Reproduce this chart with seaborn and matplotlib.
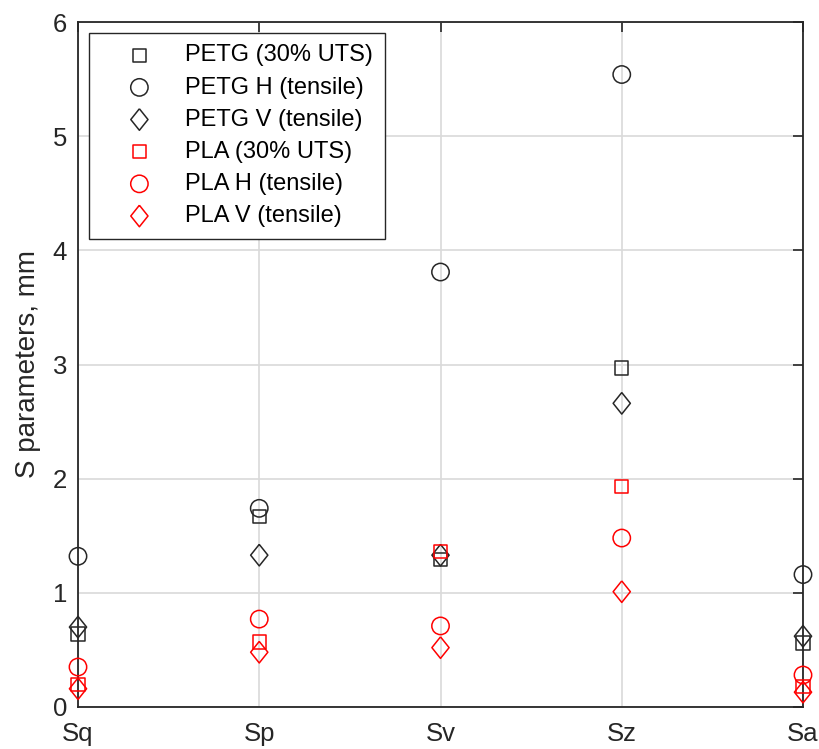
import numpy as np
import pandas as pd
import matplotlib
matplotlib.use("Agg")
import matplotlib.pyplot as plt
import seaborn as sns

# surface roughness parameters
params = ["Sq", "Sp", "Sv", "Sz", "Sa"]
petg_uts = [0.64, 1.67, 1.29, 2.97, 0.56]
petg_h = [1.32, 1.74, 3.81, 5.54, 1.16]
petg_v = [0.70, 1.33, 1.33, 2.66, 0.62]
pla_uts = [0.20, 0.57, 1.36, 1.93, 0.18]
pla_h = [0.35, 0.77, 0.71, 1.48, 0.28]
pla_v = [0.16, 0.48, 0.52, 1.01, 0.13]

series_names = ["PETG (30% UTS)", "PETG H (tensile)", "PETG V (tensile)",
                "PLA (30% UTS)", "PLA H (tensile)", "PLA V (tensile)"]
series_vals = [petg_uts, petg_h, petg_v, pla_uts, pla_h, pla_v]

dark = (0.15, 0.15, 0.15)
diamond = [(0, 1), (0.8, 0), (0, -1), (-0.8, 0), (0, 1)]
styles = [
    ("s", 9.5, dark), ("o", 12.5, dark), (diamond, 15.5, dark),
    ("s", 9.5, "red"), ("o", 12.5, "red"), (diamond, 15.5, "red"),
]

sns.set_style("white")
plt.rcParams["font.family"] = ["Liberation Sans", "DejaVu Sans"]

fig = plt.figure(figsize=(8.19, 7.49), dpi=100)
ax = fig.add_axes([78 / 819, 42 / 749, 725 / 819, 685 / 749])

for name, vals, (mk, ms, col) in zip(series_names, series_vals, styles):
    df = pd.DataFrame({"param": params, "value": vals})
    sns.scatterplot(data=df, x="param", y="value", ax=ax, marker=mk,
                    s=ms ** 2, color="none", edgecolor=col, linewidth=1.1,
                    label=name, clip_on=False, zorder=3)

ax.set_xlim(0, 4)
ax.set_ylim(0, 6)
ax.set_yticks(range(0, 7))
ax.set_xlabel("")
ax.set_ylabel("S parameters, mm", fontsize=20, color=dark, labelpad=8)
ax.grid(True, color=(0.85, 0.85, 0.85), linewidth=1.2)
ax.set_axisbelow(True)
ax.tick_params(direction="in", length=7, width=1.2, colors=dark,
               labelsize=18.5, top=True, right=True)
ax.tick_params(axis="x", pad=11)
ax.tick_params(axis="y", pad=8)
for sp in ax.spines.values():
    sp.set_visible(True)
    sp.set_color(dark)
    sp.set_linewidth(1.3)

leg = ax.legend(loc="upper left", fontsize=17, frameon=True, fancybox=False,
                borderaxespad=0.45, borderpad=0.5, handlelength=3.3,
                handletextpad=0.3, labelspacing=0.43, framealpha=1)
leg.get_frame().set_edgecolor(dark)
leg.get_frame().set_linewidth(1.0)
for t in leg.get_texts():
    t.set_color("black")

fig.savefig("out.png", dpi=100)
